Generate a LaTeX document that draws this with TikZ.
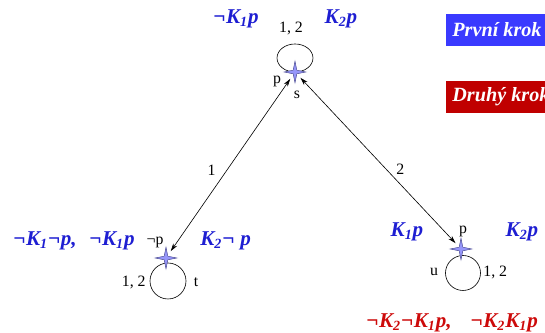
\documentclass[tikz,border=0pt]{standalone}
\usepackage{fontspec}
\setmainfont{Liberation Serif}
\usetikzlibrary{shapes.geometric,arrows.meta,backgrounds}

\definecolor{knowblue}{RGB}{30,30,210}
\definecolor{knowred}{RGB}{205,10,10}
\definecolor{boxblue}{RGB}{58,58,255}
\definecolor{boxred}{RGB}{192,0,0}
\definecolor{starfill}{RGB}{150,150,250}
\definecolor{starline}{RGB}{80,80,150}

\newcommand{\Kn}[1]{K\textsubscript{#1}}

\tikzset{
  world/.style={star, star points=4, star point ratio=4.2, minimum size=0.43cm,
    inner sep=0pt, fill=starfill, draw=starline, line width=0.3pt},
  know/.style={font=\fontsize{12}{14}\selectfont\bfseries\itshape, text=knowblue, inner sep=0pt},
  notknow/.style={know, text=knowred},
  lbl/.style={font=\fontsize{9}{11}\selectfont, inner sep=0pt},
  stepbox/.style={font=\fontsize{11.5}{13}\selectfont\bfseries\itshape, text=white,
    anchor=west, minimum height=0.64cm, inner xsep=0.12cm},
  rel/.style={{Stealth[length=4.5pt,width=2.6pt]}-{Stealth[length=4.5pt,width=2.6pt]},
    line width=0.35pt, shorten <=0.1cm, shorten >=0.1cm}
}

\begin{document}
\begin{tikzpicture}[x=0.02cm, y=-0.02cm]
\useasboundingbox (0,0) rectangle (545,333);

% worlds
\node[world] (s) at (295,72) {};
\node[world] (t) at (166,258) {};
\node[world] (u) at (461,249) {};

% reflexive loops
\begin{scope}[on background layer]
\draw[line width=0.35pt] (s.center) ++(0,-14) ellipse (0.36cm and 0.28cm);
\draw[line width=0.35pt] (t.center) ++(2,23) circle (0.36cm);
\draw[line width=0.35pt] (u.center) ++(2,24) circle (0.35cm);
\end{scope}

% relations
\draw[rel] (s) -- node[lbl, pos=0.53, left=0.22cm] {1} (t);
\draw[rel] (s) -- node[lbl, pos=0.55, right=0.2cm] {2} (u);

% labels of the worlds
\node[lbl] (slab) at (291,28) {1, 2};
\node[lbl] (sp) at (277,81) {p};
\node[lbl] (sname) at (297,95) {s};
\node[lbl] (tp) at (155,242) {¬p};
\node[lbl, anchor=east] (tlab) at (146,282) {1, 2};
\node[lbl] (tname) at (196,282) {t};
\node[lbl] (up) at (463,231) {p};
\node[lbl] (uname) at (434,272) {u};
\node[lbl, anchor=west] (ulab) at (483,272) {1, 2};

% knowledge
\node[know] (k1s) at (236,19) {¬\Kn{1}p};
\node[know] (k2s) at (341,19) {\Kn{2}p};
\node[know, anchor=west] (k1t) at (13,241) {¬\Kn{1}¬p,\hspace{0.6em}¬\Kn{1}p};
\node[know, anchor=west] (k2t) at (200,241) {\Kn{2}¬ p};
\node[know] (k1u) at (407,232) {\Kn{1}p};
\node[know] (k2u) at (522,232) {\Kn{2}p};
\node[notknow, anchor=west] (k2u2) at (366,323) {¬\Kn{2}¬\Kn{1}p,\hspace{0.9em}¬\Kn{2}\Kn{1}p};

% steps
\node[stepbox, fill=boxblue] (prvni) at (446,30) {První krok};
\node[stepbox, fill=boxred] (druhy) at (446,97) {Druhý krok};
\end{tikzpicture}
\end{document}
